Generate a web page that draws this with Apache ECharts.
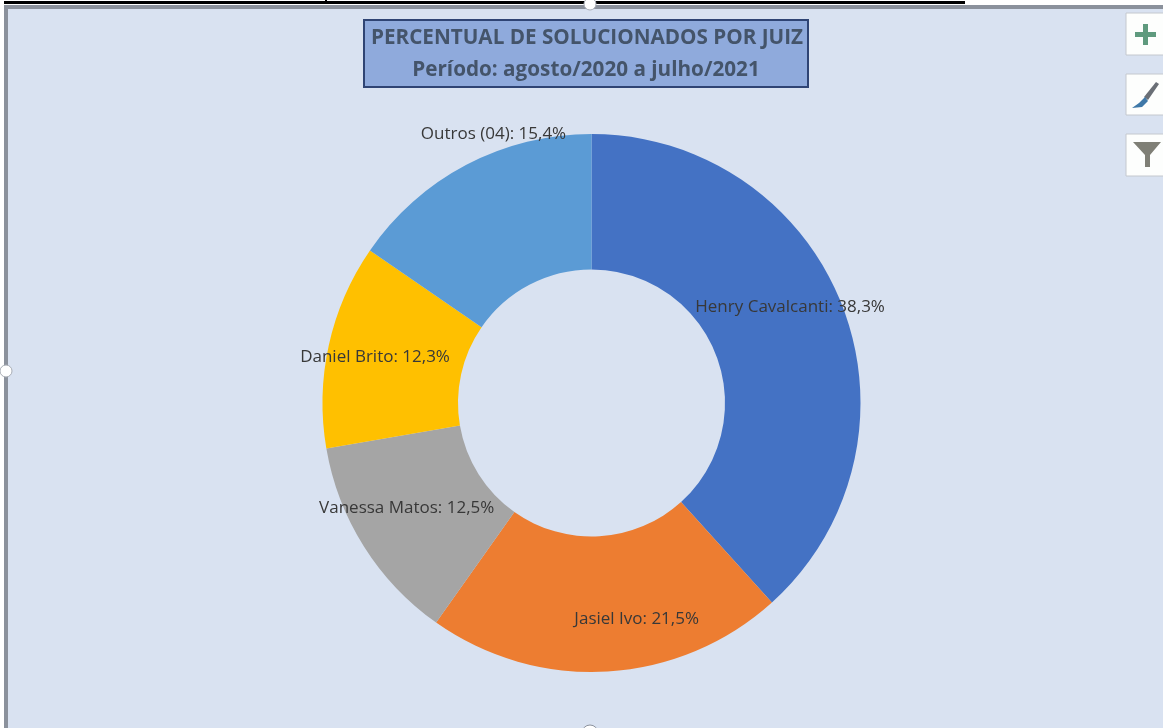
<!DOCTYPE html>
<html><head><meta charset="utf-8">
<style>html,body{margin:0;padding:0;background:#fff}#c{width:1163px;height:728px}</style>
<script src="https://cdn.jsdelivr.net/npm/echarts@6/dist/echarts.min.js"></script>
</head><body><div id="c"></div>
<script>
const categories = ['Henry Cavalcanti', 'Jasiel Ivo', 'Vanessa Matos', 'Daniel Brito', 'Outros (04)'];
const values = [38.3, 21.5, 12.5, 12.3, 15.4];
const colors = ['#4472c4', '#ed7d31', '#a5a5a5', '#ffc000', '#5b9bd5'];
const labelOffsets = [[8, -22], [33, 12], [-12, -4], [-17, -2], [-3, -88]];
const titleLines = ['PERCENTUAL DE SOLUCIONADOS POR JUIZ', 'Período: agosto/2020 a julho/2021'];
const FONT = '"Open Sans", sans-serif';

const btn = (y, h) => ({ type: 'rect', shape: { x: 1126, y, width: 40, height: h },
  style: { fill: '#fdfefd', stroke: '#c4c8ce', lineWidth: 1 } });

const chart = echarts.init(document.getElementById('c'));
chart.setOption({
  animation: false,
  backgroundColor: '#ffffff',
  title: { show: false },
  graphic: [
    { type: 'rect', z: -10, silent: true, shape: { x: 4, y: 5, width: 1160, height: 724 }, style: { fill: '#d9e2f1' } },
    { type: 'rect', z: -9, shape: { x: 4, y: 5, width: 1160, height: 4 }, style: { fill: '#8b919c' } },
    { type: 'rect', z: -9, shape: { x: 4, y: 5, width: 4, height: 724 }, style: { fill: '#8b919c' } },
    { type: 'rect', z: -8, shape: { x: 4, y: 1, width: 961, height: 3 }, style: { fill: '#000' } },
    { type: 'rect', z: -8, shape: { x: 325, y: 0, width: 2, height: 4 }, style: { fill: '#000' } },
    { type: 'circle', shape: { cx: 590, cy: 4, r: 6 }, style: { fill: '#fff', stroke: '#a8adb5', lineWidth: 1 } },
    { type: 'circle', shape: { cx: 6, cy: 371, r: 6 }, style: { fill: '#fff', stroke: '#a8adb5', lineWidth: 1 } },
    { type: 'circle', shape: { cx: 590, cy: 733, r: 8 }, style: { fill: '#fff', stroke: '#8b919c', lineWidth: 1 } },
    { type: 'rect', shape: { x: 364, y: 20, width: 444, height: 67 }, style: { fill: '#8faadc', stroke: '#2f4474', lineWidth: 2 } },
    { type: 'text', x: 587, y: 38, style: { text: titleLines[0], align: 'center', verticalAlign: 'middle', fontFamily: FONT, fontWeight: 'bold', fontSize: 20.7, fill: '#44546a' } },
    { type: 'text', x: 586, y: 70, style: { text: titleLines[1], align: 'center', verticalAlign: 'middle', fontFamily: FONT, fontWeight: 'bold', fontSize: 20.7, fill: '#44546a' } },
    btn(13, 42), btn(74, 41), btn(134, 42),
    { type: 'polygon', shape: { points: [[1143, 24], [1148, 24], [1148, 32], [1156, 32], [1156, 37], [1148, 37], [1148, 45], [1143, 45], [1143, 37], [1135, 37], [1135, 32], [1143, 32]] }, style: { fill: '#5f9a7e' } },
    { type: 'polygon', shape: { points: [[1156, 82], [1159, 84], [1148, 100], [1144, 97]] }, style: { fill: '#6a6f76' } },
    { type: 'polygon', shape: { points: [[1145, 97], [1148, 101], [1142, 107], [1132, 108], [1139, 103]] }, style: { fill: '#3f78a8' } },
    { type: 'polygon', shape: { points: [[1133, 142], [1161, 142], [1150, 155], [1150, 167], [1145, 167], [1145, 155]] }, style: { fill: '#7f7f76' } }
  ],
  series: [{
    type: 'pie',
    center: [591.5, 403],
    radius: [133.5, 269],
    startAngle: 90,
    clockwise: true,
    silent: true,
    labelLine: { show: false },
    data: categories.map((name, i) => ({
      name, value: values[i],
      itemStyle: { color: colors[i] },
      label: {
        show: true, position: 'inside', offset: labelOffsets[i],
        formatter: name + ': ' + values[i].toFixed(1).replace('.', ',') + '%',
        fontFamily: FONT, fontSize: 17, color: '#383838'
      }
    }))
  }]
});
</script></body></html>
